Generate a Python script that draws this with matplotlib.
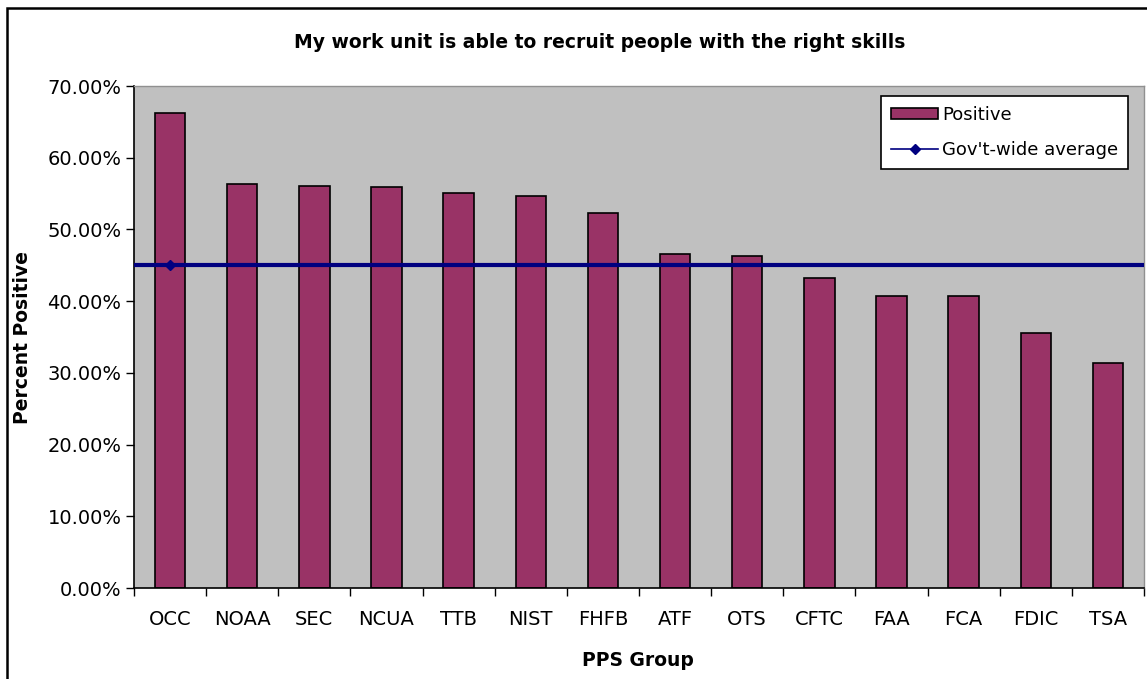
import matplotlib.pyplot as plt
from matplotlib.lines import Line2D
from matplotlib.patches import Rectangle
import numpy as np

# Data
groups = ["OCC", "NOAA", "SEC", "NCUA", "TTB", "NIST", "FHFB",
          "ATF", "OTS", "CFTC", "FAA", "FCA", "FDIC", "TSA"]
positive = [66.2, 56.4, 56.1, 55.9, 55.1, 54.7, 52.3,
            46.6, 46.3, 43.2, 40.7, 40.7, 35.6, 31.4]
govt_avg = 45.0
y_ticks = [0, 10, 20, 30, 40, 50, 60, 70]

plt.rcParams['font.family'] = ['DejaVu Sans']

W, H = 1147, 679
fig = plt.figure(figsize=(W / 100, H / 100), dpi=100)
ax = fig.add_axes([134 / W, 1 - 588 / H, (1144 - 134) / W, (588 - 86) / H])
ax.set_facecolor('#C0C0C0')

x = np.arange(len(groups))
ax.bar(x, positive, width=0.42, color='#993366', edgecolor='black', linewidth=1.2, zorder=2)

# Gov't-wide average line across the plot plus a marker on the first group
ax.axhline(govt_avg, color='#000080', linewidth=3, zorder=3)
ax.plot([x[0]], [govt_avg], marker='D', markersize=5, color='#000080', zorder=4)

ax.set_xlim(-0.5, len(groups) - 0.5)
ax.set_ylim(0, 70)

ax.set_yticks(y_ticks)
ax.set_yticklabels([f"{v:.2f}%" for v in y_ticks], fontsize=14)
ax.set_xticks(np.arange(len(groups) + 1) - 0.5)
ax.set_xticklabels([])
ax.set_xticks(x, minor=True)
ax.set_xticklabels(groups, minor=True, fontsize=14)
ax.tick_params(axis='x', which='minor', length=0, pad=16)
ax.tick_params(axis='y', which='major', pad=3)
ax.tick_params(axis='both', which='major', direction='out', length=6, width=1)

for side in ['top', 'right']:
    ax.spines[side].set_color('#909090')
    ax.spines[side].set_linewidth(1)
for side in ['left', 'bottom']:
    ax.spines[side].set_linewidth(1.2)

fig.text(600 / W, 1 - 42 / H, "My work unit is able to recruit people with the right skills",
         ha='center', va='center', fontsize=13.5, fontweight='bold')
fig.text(638 / W, 1 - 661 / H, "PPS Group", ha='center', va='center',
         fontsize=13.5, fontweight='bold')
fig.text(23 / W, 1 - 338 / H, "Percent Positive", ha='center', va='center',
         rotation=90, fontsize=13.5, fontweight='bold')

handles = [
    Rectangle((0, 0), 1, 1, facecolor='#993366', edgecolor='black', linewidth=1.2),
    Line2D([0], [0], color='#000080', linewidth=1.2, marker='D', markersize=5),
]
leg = ax.legend(handles, ["Positive", "Gov't-wide average"], loc='upper right',
                bbox_to_anchor=(1128 / W, 1 - 96 / H), bbox_transform=fig.transFigure,
                fontsize=13, fancybox=False, framealpha=1, edgecolor='black',
                borderpad=0.55, handlelength=2.6, handleheight=0.5, handletextpad=0.2,
                labelspacing=0.95, borderaxespad=0)
leg.get_frame().set_linewidth(1.2)

# Outer chart border
fig.patches.append(Rectangle((7 / W, -0.05), 1.1, 1.05 - 8 / H, transform=fig.transFigure,
                             fill=False, edgecolor='black', linewidth=1.8))

fig.savefig("out.png", dpi=100)
